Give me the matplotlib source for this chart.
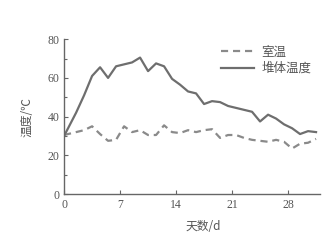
import matplotlib
matplotlib.use("Agg")
import matplotlib.pyplot as plt
from matplotlib.ticker import MultipleLocator

days = [0, 1.5, 2.5, 3.5, 4.5, 5.5, 6.5, 7.5, 8.5, 9.5, 10.5, 11.5, 12.5, 13.5, 14.5, 15.5,
        16.5, 17.5, 18.5, 19.5, 20.5, 21.5, 22.5, 23.5, 24.5, 25.5, 26.5, 27.5, 28.5, 29.5, 30.5, 31.5]
room_temp = [30.5, 32, 33, 35, 31, 27.5, 28, 35, 32, 33, 30.5, 30.5, 35.5, 32, 31.5, 33,
             32, 33, 33.5, 29, 30.5, 30.5, 29, 28, 27.5, 27, 28, 27, 23.5, 26, 26.5, 28.5]
pile_temp = [30, 42, 51, 61, 65.5, 60, 66, 67, 68, 70.5, 63.5, 67.5, 66, 59.5, 56.5, 53,
             52, 46.5, 48, 47.5, 45.5, 44.5, 43.5, 42.5, 37.5, 41, 39, 36, 34, 31, 32.5, 32]
labels = ["室温", "堆体温度"]
xticks = [0, 7, 14, 21, 28]
yticks = [0, 20, 40, 60, 80]

serif = ["Liberation Serif", "DejaVu Serif"]
cjk = ["Noto Sans CJK SC", "DejaVu Sans"]
txt = "#555555"

fig = plt.figure(figsize=(3.32, 2.45), dpi=100)
ax = fig.add_axes([0.193, 0.208, 0.771, 0.632])

ax.plot(days, room_temp, linestyle=(0, (3.2, 2.2)), color="#8a8a8a", lw=1.6, label=labels[0])
ax.plot(days, pile_temp, linestyle="-", color="#6e6e6e", lw=1.6, label=labels[1])

ax.set_xlim(0, 32)
ax.set_ylim(0, 80)
ax.set_xticks(xticks)
ax.set_yticks(yticks)
ax.yaxis.set_minor_locator(MultipleLocator(10))
for s in ["top", "right"]:
    ax.spines[s].set_visible(False)
for s in ["left", "bottom"]:
    ax.spines[s].set_color("#666666")
    ax.spines[s].set_linewidth(1.0)
ax.tick_params(axis="both", which="both", direction="in", color="#666666", labelcolor=txt,
               labelsize=8.5, length=3, width=0.8)
ax.tick_params(axis="y", which="minor", length=2.5)
for lab in ax.get_xticklabels() + ax.get_yticklabels():
    lab.set_family(serif)

ax.set_xlabel("天数/d", family=cjk, fontsize=8.5, color=txt, labelpad=2)
ax.xaxis.set_label_coords(0.545, -0.165)
ax.set_ylabel("温度/℃", family=cjk, fontsize=8.5, color=txt, labelpad=10)

leg = ax.legend(loc="upper right", bbox_to_anchor=(1.01, 1.03), frameon=False,
                prop={"family": cjk, "size": 9}, handlelength=2.6, labelspacing=0.25,
                handletextpad=0.6)
for t in leg.get_texts():
    t.set_color(txt)

fig.savefig("out.png", dpi=100)
